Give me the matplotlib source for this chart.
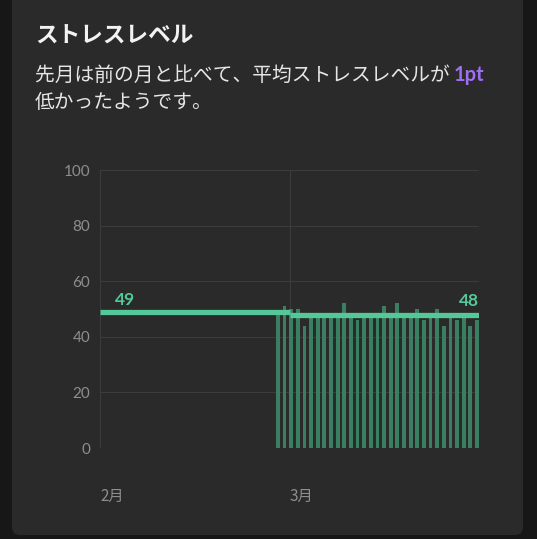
import matplotlib
matplotlib.use("Agg")
import matplotlib.pyplot as plt
import numpy as np
from matplotlib.patches import FancyBboxPatch

plt.rcParams["font.family"] = ["Noto Sans CJK JP", "DejaVu Sans"]

# テキスト
title = "ストレスレベル"
msg_head = "先月は前の月と比べて、平均ストレスレベルが "
msg_diff = "1pt"
msg_tail = "低かったようです。"
month_labels = ["2月", "3月"]
y_ticks = [0, 20, 40, 60, 80, 100]

# 月平均
feb_avg = 49
mar_avg = 48

# 3月の日ごとのストレスレベル（31日分、画像から読み取り）
mar_stress = [48, 51, 50, 50, 44, 48, 48, 48, 48, 48, 52, 48, 46, 48, 48, 48,
              51, 48, 52, 48, 48, 50, 46, 48, 50, 44, 48, 46, 48, 44, 46]

# 色
bg_color = "#171717"
card_color = "#2a2a2a"
grid_color = "#3c3c3c"
tick_color = "#8e8e8e"
line_color = "#55c89a"
bar_color = "#3a7f62"
accent_color = "#a06ef0"

W, H = 537, 539
fig = plt.figure(figsize=(W / 100, H / 100), dpi=100)
fig.patch.set_facecolor(bg_color)

# カード背景
card = FancyBboxPatch((12 / W, 4 / H), (523 - 12) / W, 1.2,
                      boxstyle="round,pad=0,rounding_size=0.015",
                      transform=fig.transFigure, facecolor=card_color,
                      edgecolor="none", zorder=-5)
fig.patches.append(card)

# タイトルとメッセージ
fig.text(35 / W, 1 - 36 / H, title, fontsize=16.3, fontweight="bold",
         color="#f2f2f2", va="center", ha="left")
t_head = fig.text(35 / W, 1 - 75 / H, msg_head, fontsize=14.2,
                  color="#e6e6e6", va="center", ha="left")
fig.text(35 / W, 1 - 102 / H, msg_tail, fontsize=14.2,
         color="#e6e6e6", va="center", ha="left")
fig.canvas.draw()
bb = t_head.get_window_extent(renderer=fig.canvas.get_renderer())
fig.text(bb.x1 / W, 1 - 75 / H, msg_diff, fontsize=14.5,
         fontweight="bold", color=accent_color, va="center", ha="left",
         family=["Lato", "DejaVu Sans"])

# グラフ領域（x軸は2月1日からの日数）
month_pos = [0, 28.6]
x_max = 57.1
bar_x = 26.8 + np.arange(len(mar_stress))

ax = fig.add_axes([100 / W, 1 - 448 / H, 379 / W, 278 / H])
ax.set_facecolor("none")
ax.set_xlim(0, x_max)
ax.set_ylim(0, 100)

ax.bar(bar_x, mar_stress, width=0.58, color=bar_color, zorder=2)

# 月平均の線
ax.plot([month_pos[0], month_pos[1]], [feb_avg, feb_avg], color=line_color,
        linewidth=3.8, solid_capstyle="butt", zorder=3)
ax.plot([month_pos[1], x_max], [mar_avg, mar_avg], color=line_color,
        linewidth=3.8, solid_capstyle="butt", zorder=3)
ax.text(2.2, feb_avg + 2.6, str(feb_avg), fontsize=12.5, fontweight="bold",
        color=line_color, ha="left", va="baseline",
        family=["Lato", "DejaVu Sans"])
ax.text(x_max, mar_avg + 3.0, str(mar_avg), fontsize=12.5, fontweight="bold",
        color=line_color, ha="right", va="baseline",
        family=["Lato", "DejaVu Sans"])

# 目盛りとグリッド
ax.set_yticks(y_ticks)
ax.set_yticklabels([str(v) for v in y_ticks], family=["Lato", "DejaVu Sans"])
ax.set_xticks(month_pos)
ax.set_xticklabels(month_labels, ha="left")
ax.grid(True, color=grid_color, linewidth=0.8, zorder=0)
ax.axvline(x_max, color=grid_color, linewidth=0.8, zorder=0)
for s in ax.spines.values():
    s.set_visible(False)
ax.tick_params(axis="both", length=0, colors=tick_color, labelsize=11)
ax.tick_params(axis="y", pad=7)
ax.tick_params(axis="x", pad=29)

fig.savefig("out.png", dpi=100, facecolor=fig.get_facecolor())
